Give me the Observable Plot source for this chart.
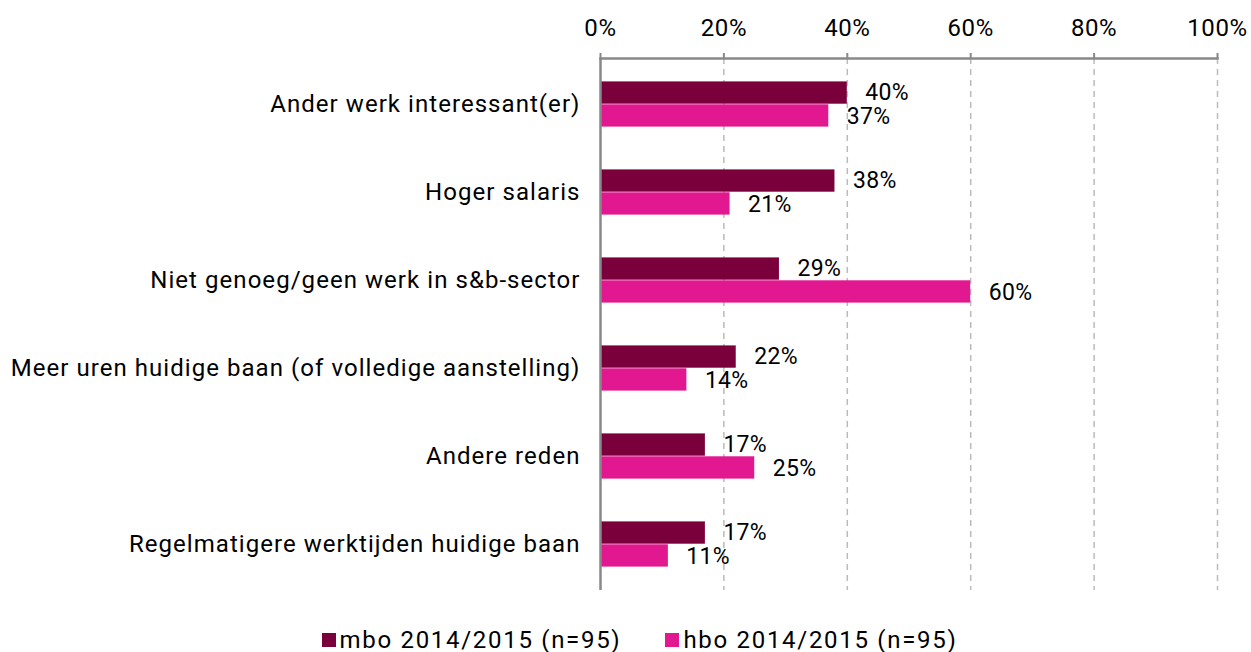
<!DOCTYPE html>
<html>
<head>
<meta charset="utf-8">
<script src="https://cdn.jsdelivr.net/npm/d3@7"></script>
<script src="https://cdn.jsdelivr.net/npm/@observablehq/plot@0.6"></script>
<style>
  body { margin: 0; background: #fff; font-family: Roboto, sans-serif; }
  #legend { display: flex; justify-content: center; gap: 44px; font-size: 24px; color: #000; margin-top: 14px; line-height: 28px; padding-left: 28px; letter-spacing: 1.7px; }
  .item { display: flex; align-items: center; }
  .sw { width: 14px; height: 14px; margin-right: 4px; display: inline-block; }
  .cat text { letter-spacing: 1.05px; }
  .val text { letter-spacing: 0.3px; }
  .xax text { letter-spacing: 0.6px; }
</style>
</head>
<body>
<div id="chart"></div>
<div id="legend"></div>
<script>
const categories = [
  "Ander werk interessant(er)",
  "Hoger salaris",
  "Niet genoeg/geen werk in s&b-sector",
  "Meer uren huidige baan (of volledige aanstelling)",
  "Andere reden",
  "Regelmatigere werktijden huidige baan"
];
const seriesNames = ["mbo 2014/2015 (n=95)", "hbo 2014/2015 (n=95)"];
const mboValues = [40, 38, 29, 22, 17, 17];
const hboValues = [37, 21, 60, 14, 25, 11];
const seriesColors = ["#7A003C", "#E1188F"];
const xTicks = [0, 20, 40, 60, 80, 100];

const mbo = categories.map((c, i) => ({category: c, value: mboValues[i]}));
const hbo = categories.map((c, i) => ({category: c, value: hboValues[i]}));

const chart = Plot.plot({
  width: 1251,
  height: 612,
  marginTop: 58,
  marginBottom: 22,
  marginLeft: 600,
  marginRight: 34,
  style: {fontSize: "24px", fontFamily: "Roboto, sans-serif", color: "#000", background: "#fff"},
  x: {domain: [0, 100], axis: null},
  y: {domain: categories, axis: null, padding: 0},
  marks: [
    Plot.gridX(xTicks.filter(d => d > 0), {stroke: "#bbb", strokeOpacity: 1, strokeWidth: 1.5, strokeDasharray: "6,5"}),
    Plot.barX(mbo, {y: "category", x: "value", fill: seriesColors[0], insetTop: 21.4, insetBottom: 44.3}),
    Plot.barX(hbo, {y: "category", x: "value", fill: seriesColors[1], insetTop: 44.3, insetBottom: 21.4}),
    Plot.text(mbo, {y: "category", x: "value", text: d => d.value + "%", textAnchor: "start", dx: 18, dy: -12, fill: "#000", fontSize: 23, className: "val"}),
    Plot.text(hbo, {y: "category", x: "value", text: d => d.value + "%", textAnchor: "start", dx: 18, dy: 12, fill: "#000", fontSize: 23, className: "val"}),
    Plot.ruleX([0], {stroke: "#888", strokeWidth: 2.5}),
    Plot.frame({anchor: "top", stroke: "#888", strokeWidth: 2.5}),
    Plot.axisX({anchor: "top", ticks: xTicks, tickFormat: d => d + "%", tickSize: 6, tickPadding: 17, stroke: "#888", strokeWidth: 2, label: null, fontSize: 24, className: "xax"}),
    Plot.axisY({anchor: "left", tickSize: 0, tickPadding: 20, label: null, fontSize: 24, className: "cat"})
  ]
});
document.getElementById("chart").appendChild(chart);

const legend = document.getElementById("legend");
seriesNames.forEach((s, i) => {
  const item = document.createElement("div");
  item.className = "item";
  const sw = document.createElement("span");
  sw.className = "sw";
  sw.style.background = seriesColors[i];
  item.appendChild(sw);
  item.appendChild(document.createTextNode(s));
  legend.appendChild(item);
});
</script>
</body>
</html>
